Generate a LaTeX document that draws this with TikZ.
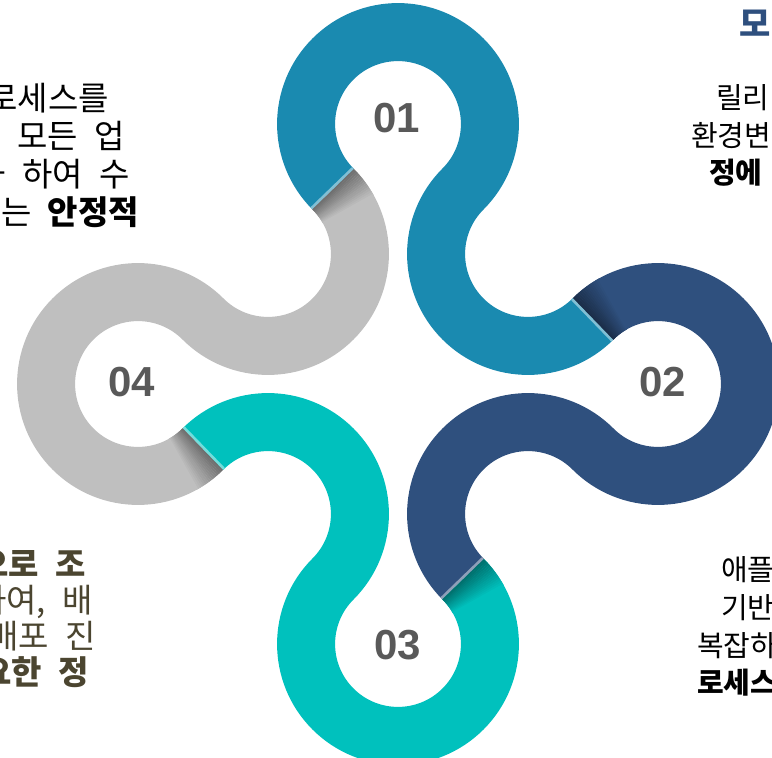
\documentclass[tikz,border=0pt]{standalone}
\usepackage{fontspec}
\setmainfont{Liberation Sans}
\newfontfamily\kr{Noto Sans CJK KR}[WordSpace=2.2]
\definecolor{cA}{RGB}{26,138,176}
\definecolor{cB}{RGB}{47,80,126}
\definecolor{cC}{RGB}{0,193,189}
\definecolor{cD}{RGB}{191,191,191}
\definecolor{numc}{RGB}{89,89,89}
\definecolor{olivetxt}{RGB}{75,69,48}
\definecolor{titleblue}{RGB}{46,79,126}
\newcommand\jshadow[3]{% center, start angle, colour
  \foreach \i in {0,...,15}{%
    \pgfmathsetmacro\aS{#2-\i*1.0}%
    \pgfmathsetmacro\aE{#2-(\i+1)*1.0-0.3}%
    \pgfmathtruncatemacro\tt{58+42*(\i/15)}%
    \draw[band,color=#3!\tt!black] (#1) ++(\aS:\rc) arc[start angle=\aS,end angle=\aE,radius=\rc];
  }}
\newcommand\jlight[3]{% center, end angle, colour
  \pgfmathsetmacro\aS{#2-1.6}%
  \draw[band,color=#3!55!white] (#1) ++(\aS:\rc) arc[start angle=\aS,end angle=#2,radius=\rc];}
\tikzset{
  band/.style={line width=58pt,line cap=butt},
  num/.style={font=\fontsize{42}{42}\selectfont\bfseries,text=numc,inner sep=0pt},
  txtL/.style={font=\kr\fontsize{33}{38}\selectfont,inner sep=0pt,text=black,anchor=base east},
  txtR/.style={font=\kr\fontsize{29}{36}\selectfont,inner sep=0pt,text=black,anchor=base west},
}
\begin{document}
\begin{tikzpicture}[x=1pt,y=1pt]
\def\rc{91.924}
\useasboundingbox (-398,384) rectangle (374,-374);
\clip (-398,384) rectangle (374,-374);
\coordinate (N1) at (0,260);
\coordinate (N2) at (260,0);
\coordinate (N3) at (0,-260);
\coordinate (N4) at (-260,0);
\coordinate (M1) at (130,130);
\coordinate (M2) at (130,-130);
\coordinate (M3) at (-130,-130);
\coordinate (M4) at (-130,130);
% bands
\draw[band,cA] (N1) ++(225:\rc) arc[start angle=225,end angle=-45,radius=\rc]
  arc[start angle=135,end angle=315,radius=\rc];
\draw[band,cB] (N2) ++(135:\rc) arc[start angle=135,end angle=-135,radius=\rc]
  arc[start angle=45,end angle=225,radius=\rc];
\draw[band,cC] (N3) ++(45:\rc) arc[start angle=45,end angle=-225,radius=\rc]
  arc[start angle=-45,end angle=135,radius=\rc];
\draw[band,cD] (N4) ++(-45:\rc) arc[start angle=-45,end angle=-315,radius=\rc]
  arc[start angle=225,end angle=405,radius=\rc];
% junction shadows
\jshadow{M4}{45}{cD}
\jshadow{N2}{135}{cB}
\jshadow{N3}{45}{cC}
\jshadow{N4}{-45}{cD}
% junction highlights
\jlight{N1}{225}{cA}
\jlight{M1}{315}{cA}
\jlight{M2}{225}{cB}
\jlight{M3}{135}{cC}
% numbers
\node[num] (n1) at (-1,266) {01};
\node[num] (n2) at (265,2) {02};
\node[num] (n3) at (0,-261) {03};
\node[num] (n4) at (-266,2) {04};
% top-left text
\node[txtL] (tl1) at (-289,273) {로세스를};
\node[txtL] (tl2) at (-273,235) {의 모든 업};
\node[txtL] (tl3) at (-268,197) {화 하여 수};
\node[txtL] (tl4) at (-259,159) {있는 \textbf{안정적}};
% top-right text
\node[txtR,text=titleblue,font=\kr\fontsize{34}{40}\selectfont\bfseries] (tt) at (341,347) {모};
\node[txtR] (tr1) at (318,275) {릴리};
\node[txtR] (tr2) at (293,237) {환경변};
\node[txtR] (tr3) at (311,200) {\textbf{정에}};
% bottom-left text
\node[txtL,text=olivetxt] (bl1) at (-312,-192) {\textbf{으로 조}};
\node[txtL,text=olivetxt] (bl2) at (-305,-228) {하여, 배};
\node[txtL,text=olivetxt] (bl3) at (-302,-264) {배포 진};
\node[txtL,text=olivetxt] (bl4) at (-309,-300) {\textbf{요한 정}};
% bottom-right text
\node[txtR] (br1) at (323,-196) {애플};
\node[txtR] (br2) at (323,-234) {기반};
\node[txtR] (br3) at (299,-272) {복잡하};
\node[txtR] (br4) at (299,-309) {\textbf{로세스}};
\end{tikzpicture}
\end{document}
